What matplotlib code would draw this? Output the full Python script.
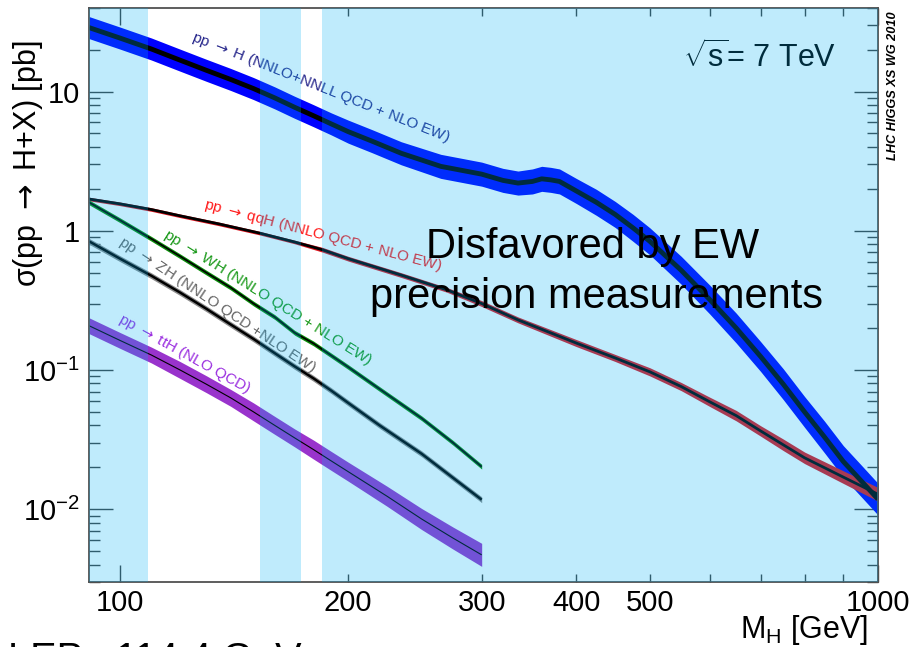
import matplotlib
matplotlib.use("Agg")
import matplotlib.pyplot as plt
from matplotlib.ticker import FixedLocator, FixedFormatter
import numpy as np

plt.rcParams['font.family'] = ['Liberation Sans', 'DejaVu Sans']
plt.rcParams['mathtext.fontset'] = 'custom'
plt.rcParams['mathtext.rm'] = 'Liberation Sans'
plt.rcParams['mathtext.it'] = 'Liberation Sans:italic'
plt.rcParams['mathtext.bf'] = 'Liberation Sans:bold'

# cross sections [pb] vs Higgs mass [GeV], band = +/- percent
ggH_mass = [91, 100, 110, 120, 130, 140, 150, 160, 170, 180, 190, 200, 215, 235, 265, 300, 320,
            335, 350, 360, 370, 380, 400, 425, 450, 475, 500, 550, 600, 650, 700, 750, 800, 850,
            900, 950, 1000]
ggH_xs = [28.8, 24.2, 20.2, 16.8, 14.2, 12.2, 10.5, 9.0, 7.7, 6.7, 5.85, 5.15, 4.4, 3.6, 2.9, 2.55, 2.3,
          2.2, 2.26, 2.36, 2.32, 2.26, 1.93, 1.6, 1.31, 1.05, 0.84, 0.52, 0.32, 0.2, 0.125, 0.079,
          0.050, 0.033, 0.022, 0.016, 0.0118]
ggH_unc = [20, 20, 20, 20, 20, 20, 20, 20, 20, 20, 20, 21, 21, 21, 22, 22, 22,
           22, 23, 23, 23, 23, 23, 24, 24, 25, 25, 26, 27, 28, 28, 29, 29, 30,
           30, 30, 30]

qqH_mass = [91, 100, 110, 120, 135, 153, 170, 185, 200, 235, 270, 300, 335, 400, 450, 500, 550,
            600, 650, 700, 750, 800, 900, 1000]
qqH_xs = [1.69, 1.56, 1.42, 1.28, 1.12, 0.96, 0.83, 0.73, 0.63, 0.48, 0.376, 0.30, 0.229, 0.156,
          0.122, 0.097, 0.076, 0.059, 0.047, 0.0365, 0.029, 0.0234, 0.017, 0.0128]
qqH_unc = [3, 3, 3, 3, 3, 3, 3, 4, 4, 4, 4, 5, 5, 6, 6, 7, 7, 8, 9, 9, 10, 10, 11, 12]

WH_mass = [91, 100, 110, 120, 130, 140, 150, 160, 170, 180, 190, 200, 220, 250, 275, 300]
WH_xs = [1.6, 1.19, 0.875, 0.656, 0.50, 0.39, 0.30, 0.24, 0.185, 0.155, 0.127, 0.105, 0.073,
         0.045, 0.030, 0.0202]
WH_unc = [4, 4, 4, 4, 4, 4, 4, 4, 4, 4, 4, 4, 4, 4, 4, 4]

ZH_mass = [91, 100, 110, 120, 130, 140, 150, 160, 170, 180, 190, 200, 220, 250, 275, 300]
ZH_xs = [0.84, 0.63, 0.475, 0.36, 0.275, 0.212, 0.167, 0.132, 0.106, 0.087, 0.071, 0.058, 0.040,
         0.025, 0.0168, 0.0117]
ZH_unc = [5, 5, 5, 5, 5, 5, 5, 5, 5, 5, 5, 5, 5, 5, 5, 5]

ttH_mass = [91, 100, 110, 120, 130, 140, 150, 160, 170, 180, 190, 200, 225, 250, 275, 300]
ttH_xs = [0.208, 0.163, 0.128, 0.100, 0.079, 0.063, 0.050, 0.040, 0.0325, 0.0268, 0.0222, 0.0186,
          0.0124, 0.0085, 0.0062, 0.0047]
ttH_unc = [14, 14, 14, 15, 15, 15, 16, 16, 16, 17, 17, 17, 18, 19, 20, 21]

# excluded / disfavoured mass ranges
zones = [(91, 108.9), (153, 173.2), (184.5, 1000)]

fig = plt.figure(figsize=(9.13, 6.47), dpi=100)
ax = fig.add_axes([89 / 913, 65 / 647, 789 / 913, 574.3 / 647])
ax.set_xscale('log')
ax.set_yscale('log')
ax.set_xlim(91, 1000)
ax.set_ylim(0.003, 40)


def channel(m, xs, unc, col, lw):
    m = np.array(m)
    xs = np.array(xs)
    f = 1 + np.array(unc) / 100.0
    ax.fill_between(m, xs / f, xs * f, color=col, lw=0, zorder=2)
    ax.plot(m, xs, color='black', lw=lw, zorder=2.1, solid_capstyle='butt')


channel(ggH_mass, ggH_xs, ggH_unc, '#0000ff', 3.5)
channel(qqH_mass, qqH_xs, qqH_unc, '#e0141e', 2.0)
channel(WH_mass, WH_xs, WH_unc, '#0a8c0a', 1.2)
channel(ZH_mass, ZH_xs, ZH_unc, '#8c8c8c', 1.8)
channel(ttH_mass, ttH_xs, ttH_unc, '#9933cc', 0.8)

arrow = r'$\;\rightarrow\;$'
lab = dict(ha='center', va='center', rotation_mode='anchor', fontsize=11, zorder=2.5,
           math_fontfamily='dejavusans')
ax.text(184.0, 10.7, 'pp' + arrow + 'H (NNLO+NNLL QCD + NLO EW)', rotation=-21.6,
        color='#28288c', **lab)
ax.text(185.4, 0.924, 'pp' + arrow + 'qqH (NNLO QCD + NLO EW)', rotation=-14.7,
        color='#ff1a1a', **lab)
ax.text(156.5, 0.329, 'pp' + arrow + 'WH (NNLO QCD + NLO EW)', rotation=-32,
        color='#1a991a', **lab)
ax.text(134.5, 0.291, 'pp' + arrow + 'ZH (NNLO QCD +NLO EW)', rotation=-33.6,
        color='#666666', **lab)
ax.text(121.6, 0.1296, 'pp' + arrow + 'ttH (NLO QCD)', rotation=-28.9,
        color='#9b30e0', **lab)

ax.text((683 - 89) / 789, 1 - (66.7 - 7.7) / 574.3, r'$\sqrt{\mathrm{s}}$= 7 TeV',
        transform=ax.transAxes, ha='left', va='baseline', fontsize=22, color='black', zorder=2.5)

for a, b in zones:
    ax.axvspan(a, b, color=(0, 176 / 255, 244 / 255), alpha=0.25, lw=0, zorder=3)

# axes, ticks
for s in ax.spines.values():
    s.set_color('#505050')
    s.set_linewidth(1.3)
ax.xaxis.set_major_locator(FixedLocator([100, 1000]))
ax.xaxis.set_major_formatter(FixedFormatter(['100', '1000']))
ax.xaxis.set_minor_locator(FixedLocator([200, 300, 400, 500, 600, 700, 800, 900]))
ax.xaxis.set_minor_formatter(FixedFormatter(['200', '300', '400', '500', '', '', '', '']))
ax.yaxis.set_major_locator(FixedLocator([0.01, 0.1, 1, 10]))
ax.yaxis.set_major_formatter(FixedFormatter([r'$10^{-2}$', r'$10^{-1}$', '1', '10']))
ymin = [k * 10.0 ** e for e in (-3, -2, -1, 0) for k in range(2, 10)] + [20, 30, 40]
ax.yaxis.set_minor_locator(FixedLocator([v for v in ymin if v >= 0.003]))
ax.yaxis.set_minor_formatter(FixedFormatter([]))
ax.tick_params(which='both', direction='in', top=True, right=True, color='#404040',
               labelsize=21, width=1.0)
ax.tick_params(axis='x', which='major', length=12, pad=5)
ax.tick_params(axis='x', which='minor', length=6, pad=5)
ax.tick_params(axis='y', which='major', length=17, pad=6.5)
ax.tick_params(axis='y', which='minor', length=8)

fig.text(28 / 913, 1 - 163.5 / 647, 'σ(pp' + arrow + 'H+X) [pb]', rotation=90, ha='center',
         va='center', fontsize=22, math_fontfamily='dejavusans')
fig.text(868 / 913, 1 - 638 / 647, r'M$_{\mathrm{H}}$ [GeV]', ha='right', va='baseline', fontsize=22)
fig.text(893.3 / 913, 1 - 86 / 647, 'LHC HIGGS XS WG 2010', rotation=90, ha='center', va='center',
         fontsize=9.2, fontweight='bold', fontstyle='italic')

fig.text(593 / 913, 1 - 258 / 647, 'Disfavored by EW', ha='center', va='baseline', fontsize=30,
         zorder=5)
fig.text(596 / 913, 1 - 308 / 647, 'precision measurements', ha='center', va='baseline',
         fontsize=30, zorder=5)
fig.text(8 / 913, 1 - 671 / 647, 'LEP : 114.4 GeV', ha='left', va='baseline', fontsize=28.5)

fig.savefig('out.png', dpi=100)
